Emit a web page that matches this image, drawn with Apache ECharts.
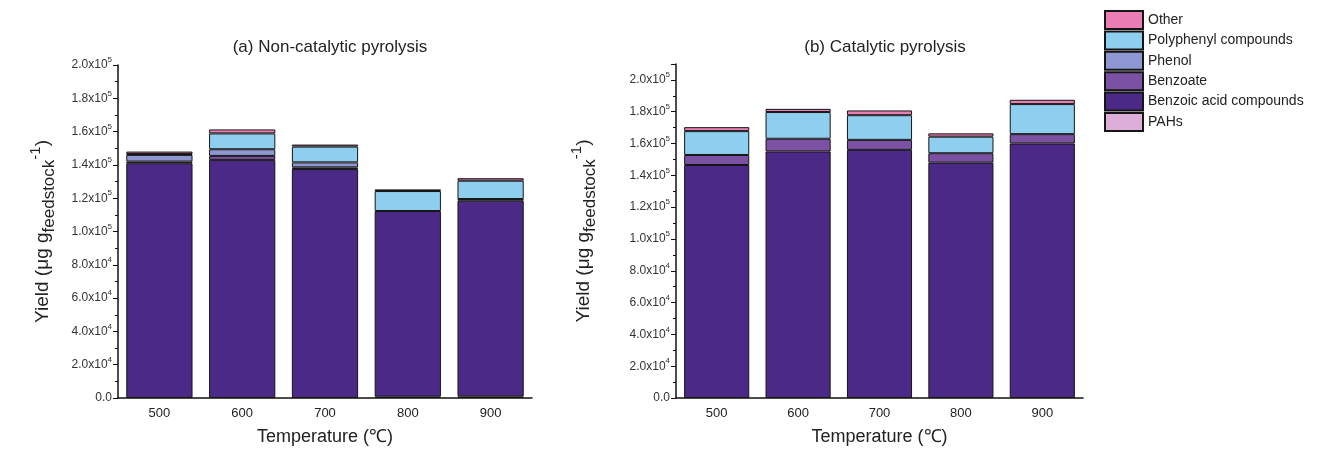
<!DOCTYPE html>
<html>
<head>
<meta charset="utf-8">
<script src="https://cdn.jsdelivr.net/npm/echarts@6/dist/echarts.min.js"></script>
<style>
  html, body { margin: 0; padding: 0; background: #fff; }
  #chart { width: 1332px; height: 454px; }
</style>
</head>
<body>
<div id="chart"></div>
<script>
// temperatures (℃)
var categories = ['500', '600', '700', '800', '900'];

// (a) non-catalytic pyrolysis, yield in µg per g feedstock
var nonCatPAHs = [0, 0, 0, 800, 1000];
var nonCatBenzoicAcid = [141000, 143000, 137500, 111500, 117500];
var nonCatBenzoate = [1000, 2400, 1000, 0, 1000];
var nonCatPhenol = [4000, 4000, 3000, 0, 0];
var nonCatPolyphenyl = [500, 9500, 9500, 12000, 11000];
var nonCatOther = [1500, 2400, 1200, 1000, 1500];

// (b) catalytic pyrolysis
var catPAHs = [0, 0, 0, 0, 0];
var catBenzoicAcid = [146500, 155000, 156000, 148000, 160000];
var catBenzoate = [6300, 8000, 6300, 5900, 5900];
var catPhenol = [0, 0, 0, 0, 0];
var catPolyphenyl = [15000, 16800, 15500, 10400, 18900];
var catOther = [2500, 2000, 3000, 2100, 2700];

var layerNames = ['PAHs', 'Benzoic acid compounds', 'Benzoate', 'Phenol', 'Polyphenyl compounds', 'Other'];

window.onload = function () {
    var chart = echarts.init(document.getElementById('chart'));
    var font = 'Arial, "Liberation Sans", sans-serif';

    var colors = {
        'PAHs': '#dcaed8',
        'Benzoic acid compounds': '#4b2a87',
        'Benzoate': '#7b52a3',
        'Phenol': '#8f97d2',
        'Polyphenyl compounds': '#8ecff0',
        'Other': '#ea7db4'
    };

    var panels = [
        [nonCatPAHs, nonCatBenzoicAcid, nonCatBenzoate, nonCatPhenol, nonCatPolyphenyl, nonCatOther],
        [catPAHs, catBenzoicAcid, catBenzoate, catPhenol, catPolyphenyl, catOther]
    ];

    var series = [];
    panels.forEach(function (layers, p) {
        layers.forEach(function (vals, i) {
            series.push({
                name: layerNames[i],
                type: 'bar',
                stack: 'panel' + p,
                xAxisIndex: p,
                yAxisIndex: p,
                barWidth: '80%',
                itemStyle: {
                    color: colors[layerNames[i]],
                    borderColor: '#151515',
                    borderWidth: 1
                },
                data: vals.map(function (v) { return v === 0 ? '-' : v; })
            });
        });
    });

    // 2.0x10^5 style labels
    function sciLabel(v) {
        if (v === 0) return '0.0';
        if (v > 200000) return '';
        var e = Math.floor(Math.log10(v) + 1e-9);
        var m = (v / Math.pow(10, e)).toFixed(1);
        return '{m|' + m + 'x10}{e|' + e + '}';
    }

    var yName = '{n|Yield (μg g}{s|feedstock}{p|-1}{n|)}';
    var yNameStyle = {
        fontFamily: font,
        color: '#222',
        rich: {
            n: { fontSize: 19, fontFamily: font, color: '#222', lineHeight: 30, verticalAlign: 'middle' },
            s: { fontSize: 17, fontFamily: font, color: '#222', lineHeight: 14, verticalAlign: 'bottom' },
            p: { fontSize: 15, fontFamily: font, color: '#222', lineHeight: 12, verticalAlign: 'top' }
        }
    };

    function xAxis(gridIndex) {
        return {
            type: 'category',
            gridIndex: gridIndex,
            data: categories,
            name: 'Temperature (℃)',
            nameLocation: 'middle',
            nameGap: 30,
            nameTextStyle: { fontFamily: font, fontSize: 18, color: '#222' },
            axisLine: { lineStyle: { color: '#111', width: 1.5 } },
            axisTick: { alignWithLabel: true, length: 4, lineStyle: { color: '#111' } },
            axisLabel: { fontFamily: font, fontSize: 13, color: '#222', margin: 9 }
        };
    }

    function yAxis(gridIndex, max, gap) {
        return {
            type: 'value',
            gridIndex: gridIndex,
            min: 0,
            max: max,
            interval: 20000,
            name: yName,
            nameLocation: 'middle',
            nameGap: gap,
            nameRotate: 90,
            nameTextStyle: yNameStyle,
            axisLine: { show: true, lineStyle: { color: '#111', width: 1.5 } },
            axisTick: { show: true, length: 5, lineStyle: { color: '#111' } },
            minorTick: { show: true, splitNumber: 2, length: 3, lineStyle: { color: '#111' } },
            splitLine: { show: false },
            axisLabel: {
                formatter: sciLabel,
                margin: 6,
                rich: {
                    m: { fontFamily: font, fontSize: 12, color: '#333' },
                    e: { fontFamily: font, fontSize: 8, color: '#333', verticalAlign: 'top', lineHeight: 18 }
                },
                fontFamily: font,
                fontSize: 12,
                color: '#333'
            }
        };
    }

    var option = {
        animation: false,
        backgroundColor: '#fff',
        title: [
            {
                text: '(a) Non-catalytic pyrolysis',
                left: 325, top: 34, textAlign: 'center',
                textStyle: { fontFamily: font, fontSize: 17, fontWeight: 'normal', color: '#222' }
            },
            {
                text: '(b) Catalytic pyrolysis',
                left: 880, top: 34, textAlign: 'center',
                textStyle: { fontFamily: font, fontSize: 17, fontWeight: 'normal', color: '#222' }
            }
        ],
        legend: {
            orient: 'vertical',
            left: 1099,
            top: 5,
            itemWidth: 38,
            itemHeight: 18,
            itemGap: 0.4,
            icon: 'rect',
            data: layerNames.slice().reverse(),
            textStyle: { fontFamily: font, fontSize: 14, lineHeight: 16, color: '#222' }
        },
        grid: [
            { left: 118, top: 65, width: 414, bottom: 56 },
            { left: 676, top: 64, width: 407, bottom: 56 }
        ],
        xAxis: [xAxis(0), xAxis(1)],
        yAxis: [yAxis(0, 200000, 60), yAxis(1, 210000, 77)],
        series: series
    };

    chart.setOption(option);
};
</script>
</body>
</html>
